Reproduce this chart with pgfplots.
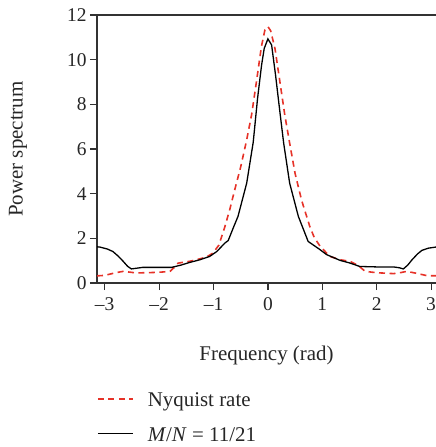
\documentclass[border=0pt]{standalone}
\usepackage{pgfplots}
\pgfplotsset{compat=1.18}
\usepackage{fontspec}
\setmainfont{Liberation Serif}
\definecolor{nyq}{RGB}{230,50,40}
\definecolor{axgray}{RGB}{50,50,50}
\begin{document}
\begin{tikzpicture}
\useasboundingbox (0,0) rectangle (436bp,447bp);
\begin{axis}[
  at={(97bp,164bp)}, anchor=south west,
  scale only axis, width=339bp, height=268bp,
  xmin=-3.1416, xmax=3.09, ymin=0, ymax=12,
  axis lines=left,
  axis line style={-, line width=1.2bp, axgray},
  xtick={-3,-2,-1,0,1,2,3},
  xticklabels={–3,–2,–1,0,1,2,3},
  ytick={0,2,4,6,8,10,12},
  yticklabels={0,2,4,6,8,10,12},
  tick align=outside, major tick length=7bp,
  tick style={line width=1.2bp, axgray},
  tick label style={font=\fontsize{19.5}{20}\selectfont, text=black!85},
  xticklabel style={yshift=-4bp},
  xlabel={Frequency (rad)}, ylabel={Power spectrum},
  label style={font=\fontsize{21}{22}\selectfont, text=black!85},
  xlabel style={at={(axis description cs:0.5,-0.269)}, anchor=center},
  ylabel style={at={(axis description cs:-0.233,0.5)}, anchor=center},
  legend style={at={(axis description cs:0.0,-0.405)}, anchor=north west,
    draw=none, fill=none, font=\fontsize{21}{22}\selectfont, text=black!85,
    row sep=15bp, inner sep=0pt,
    nodes={inner sep=0pt, text height=15bp, text depth=5bp}},
  legend cell align=left,
  legend image code/.code={\draw[#1] (0bp,3bp) -- (35bp,3bp); \path (49bp,3bp);},
  clip mode=individual,
]
\draw[line width=1.2bp, axgray] (rel axis cs:0,1) -- (rel axis cs:1,1);
\addplot[nyq, line width=1.6bp, dash pattern=on 6bp off 4.5bp] coordinates {
(-3.1416,0.32) (-3.0,0.34) (-2.9,0.40) (-2.78,0.47) (-2.66,0.52) (-2.55,0.49)
(-2.42,0.45) (-2.25,0.46) (-2.11,0.47) (-1.95,0.49) (-1.80,0.52) (-1.72,0.70)
(-1.65,0.89) (-1.44,0.97) (-1.30,1.05) (-1.13,1.16) (-1.01,1.34) (-0.90,1.70)
(-0.79,2.53) (-0.70,3.30) (-0.61,4.17) (-0.50,5.20) (-0.39,6.41) (-0.30,7.53)
(-0.21,9.02) (-0.12,10.58) (-0.055,11.33) (0,11.48) (0.05,11.30) (0.13,10.50)
(0.22,9.02) (0.31,7.53) (0.40,6.26) (0.50,4.90) (0.62,3.70) (0.77,2.53)
(0.85,2.05) (0.96,1.64) (1.14,1.19) (1.33,1.04) (1.51,0.97) (1.65,0.80)
(1.79,0.52) (2.0,0.46) (2.31,0.42) (2.45,0.47) (2.55,0.52) (2.70,0.45)
(2.92,0.33) (3.1416,0.32)
};
\addlegendentry{Nyquist rate}
\addplot[black, line width=1.3bp] coordinates {
(-3.1416,1.62) (-3.09,1.61) (-2.95,1.52) (-2.85,1.41) (-2.75,1.20) (-2.66,0.97)
(-2.58,0.75) (-2.51,0.63) (-2.42,0.66) (-2.30,0.70) (-2.0,0.70) (-1.77,0.70)
(-1.60,0.80) (-1.44,0.92) (-1.25,1.04) (-1.07,1.19) (-0.94,1.41) (-0.79,1.79)
(-0.73,1.90) (-0.64,2.45) (-0.55,2.98) (-0.39,4.47) (-0.27,6.30) (-0.19,8.27)
(-0.116,9.76) (-0.068,10.50) (0.0,10.93) (0.068,10.66) (0.14,9.32) (0.22,7.67)
(0.29,6.26) (0.40,4.47) (0.56,2.98) (0.74,1.86) (0.96,1.49) (1.08,1.27)
(1.33,1.01) (1.50,0.90) (1.69,0.74) (2.0,0.72) (2.31,0.72) (2.42,0.68)
(2.49,0.63) (2.57,0.80) (2.65,1.04) (2.75,1.30) (2.83,1.46) (2.95,1.56)
(3.09,1.61) (3.1416,1.62)
};
\addlegendentry{\textit{M}/\textit{N} = 11/21}
\end{axis}
\end{tikzpicture}
\end{document}
